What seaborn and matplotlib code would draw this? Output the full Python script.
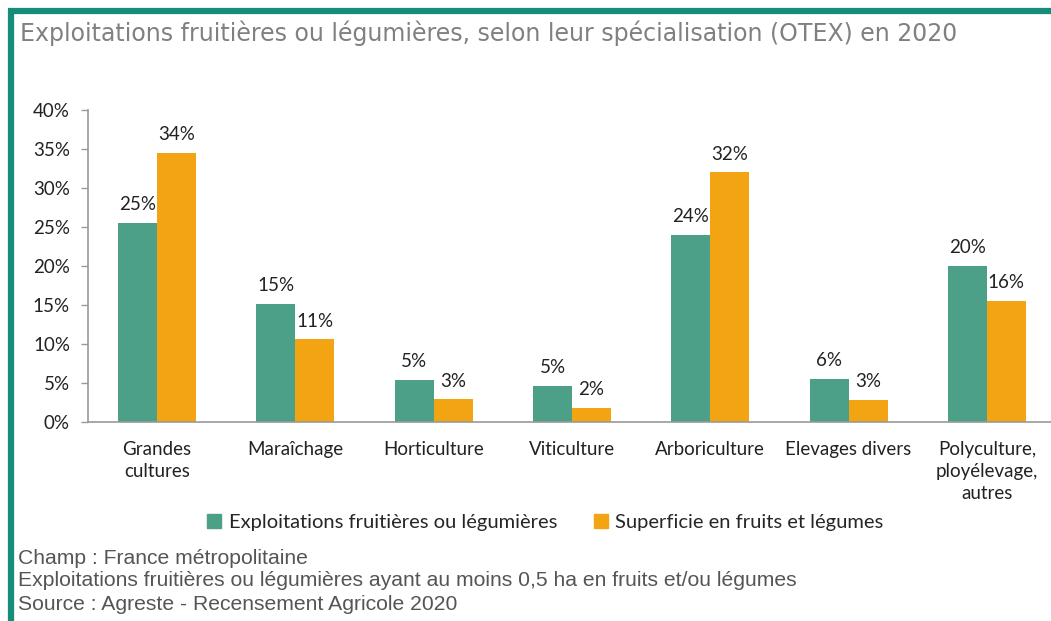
import matplotlib
matplotlib.use("Agg")
import matplotlib.pyplot as plt
import seaborn as sns
import pandas as pd
from matplotlib.lines import Line2D

categories = ["Grandes\ncultures", "Maraîchage", "Horticulture", "Viticulture",
              "Arboriculture", "Elevages divers", "Polyculture,\nployélevage,\nautres"]
series_names = ["Exploitations fruitières ou légumières", "Superficie en fruits et légumes"]
exploitations = [25.5, 15.1, 5.4, 4.6, 24.0, 5.5, 20.0]
superficie = [34.5, 10.6, 2.9, 1.8, 32.0, 2.8, 15.5]
labels_exploitations = ["25%", "15%", "5%", "5%", "24%", "6%", "20%"]
labels_superficie = ["34%", "11%", "3%", "2%", "32%", "3%", "16%"]
yticks = [0, 5, 10, 15, 20, 25, 30, 35, 40]

title = "Exploitations fruitières ou légumières, selon leur spécialisation (OTEX) en 2020"
footer = ["Champ : France métropolitaine",
          "Exploitations fruitières ou légumières ayant au moins 0,5 ha en fruits et/ou légumes",
          "Source : Agreste - Recensement Agricole 2020"]

colors = ["#4BA087", "#F2A413"]

df = pd.DataFrame({
    "cat": categories * 2,
    "serie": [series_names[0]] * 7 + [series_names[1]] * 7,
    "val": exploitations + superficie,
})

sns.set_theme(style="white")
plt.rcParams["font.family"] = ["Lato", "DejaVu Sans"]

W, H = 1051, 621
fig = plt.figure(figsize=(W / 100, H / 100), dpi=100)
fig.patch.set_facecolor("white")

ax = fig.add_axes([88 / W, 1 - 422 / H, (1056 - 88) / W, (422 - 110) / H])
sns.barplot(data=df, x="cat", y="val", hue="serie", palette=colors,
            width=0.565, saturation=1, ax=ax, legend=False, linewidth=0)

ax.set_ylim(0, 40)
ax.set_xlim(-0.5, 6.5)
ax.set_yticks(yticks)
ax.set_yticklabels([f"{v}%" for v in yticks], fontsize=13.5, color="#222222")
ax.set_xticks(range(7))
ax.set_xticklabels(categories, fontsize=13.5, color="#222222", linespacing=1.35)
ax.tick_params(axis="x", length=0, pad=14)
ax.set_xticks([i - 0.5 for i in range(8)], minor=True)
ax.tick_params(axis="x", which="minor", length=6, color="#999999", direction="out", width=1)
ax.tick_params(axis="y", length=5, color="#999999", direction="out", width=1, pad=8, left=True)
ax.set_xlabel("")
ax.set_ylabel("")
for s in ["top", "right"]:
    ax.spines[s].set_visible(False)
for s in ["left", "bottom"]:
    ax.spines[s].set_color("#999999")
    ax.spines[s].set_linewidth(1.2)

for cont, labs in zip(ax.containers, [labels_exploitations, labels_superficie]):
    ax.bar_label(cont, labels=labs, padding=7, fontsize=13.5, color="#222222")

handles = [Line2D([0], [0], marker="s", linestyle="none", markersize=10,
                  markerfacecolor=c, markeredgecolor=c) for c in colors]
fig.legend(handles, series_names, loc="center", bbox_to_anchor=(545 / W, 1 - 522 / H),
           ncol=2, frameon=False, fontsize=14.5, handletextpad=0.3, columnspacing=1.8,
           handlelength=0.8)

fig.text(20 / W, 1 - 33 / H, title, fontsize=17, color="#808080", va="center", ha="left",
         family=["DejaVu Sans"])
for i, line in enumerate(footer):
    fig.text(18 / W, 1 - (558 + 23 * i) / H, line, fontsize=15.2, color="#555555",
             va="center", ha="left", family=["Liberation Sans", "DejaVu Sans"])

# teal frame (left and top)
fig.add_artist(Line2D([10.5 / W, 10.5 / W], [0, 1 - 10 / H], transform=fig.transFigure,
                      color="#178C78", linewidth=4.5, solid_capstyle="butt"))
fig.add_artist(Line2D([8 / W, 1], [1 - 10.5 / H, 1 - 10.5 / H], transform=fig.transFigure,
                      color="#178C78", linewidth=4.5, solid_capstyle="butt"))

fig.savefig("out.png", dpi=100)
